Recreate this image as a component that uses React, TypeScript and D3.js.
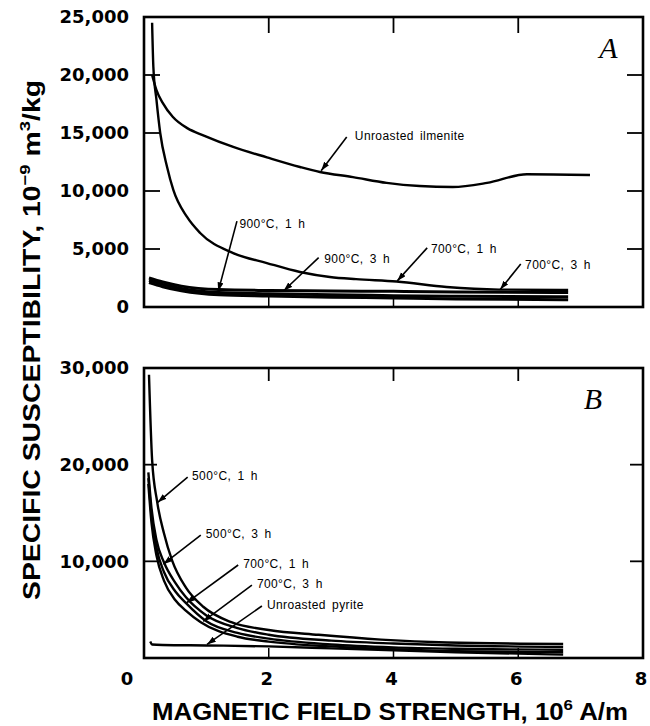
import { useEffect, useRef } from 'react';
import * as d3 from 'd3';

type Pt = [number, number];

const xTicks = [0, 2, 4, 6, 8];
const yTicksA = [0, 5000, 10000, 15000, 20000, 25000];
const yTicksB = [10000, 20000, 30000];

// panel A
const ilmenite: Pt[] = [
  [0.13, 20000], [0.2, 18700], [0.3, 17600], [0.46, 16400], [0.7, 15400], [0.95, 14800],
  [1.43, 13800], [1.97, 12900], [2.5, 12070], [2.82, 11640], [3.35, 11200], [3.89, 10700],
  [4.42, 10430], [4.95, 10350], [5.5, 10700], [6.14, 11450], [7.15, 11380],
];
const a700c1h: Pt[] = [
  [0.13, 24500], [0.15, 20700], [0.2, 17850], [0.26, 15000], [0.37, 12070], [0.47, 10090],
  [0.69, 7760], [0.9, 6380], [1.43, 4650], [1.97, 3790], [2.5, 3020], [2.98, 2590],
  [3.4, 2400], [4.05, 2200], [4.85, 1720], [5.7, 1500], [6.8, 1470],
];
const a700c3h: Pt[] = [
  [0.08, 2500], [0.3, 2150], [0.6, 1800], [1.2, 1500], [2, 1420], [3, 1380], [4, 1350], [5, 1300], [6.8, 1250],
];
const a900c1h: Pt[] = [
  [0.08, 2300], [0.3, 1950], [0.6, 1600], [1.2, 1250], [2, 1150], [3, 1050], [4, 980], [5, 920], [6.8, 880],
];
const a900c3h: Pt[] = [
  [0.08, 2100], [0.3, 1750], [0.6, 1400], [1.2, 1050], [2, 950], [3, 850], [4, 780], [5, 700], [6.8, 620],
];

// panel B
const b500c1h: Pt[] = [
  [0.08, 29300], [0.13, 20500], [0.21, 16200], [0.32, 12900], [0.45, 10100], [0.67, 7300],
  [0.95, 5300], [1.4, 3700], [2, 2900], [2.8, 2400], [3.8, 1900], [4.86, 1600], [6.72, 1450],
];
const b500c3h: Pt[] = [
  [0.07, 19200], [0.12, 15500], [0.2, 12200], [0.32, 9900], [0.5, 7800], [0.67, 6300], [1, 4400],
  [1.5, 3100], [2, 2400], [3, 1800], [4, 1500], [5, 1300], [6.72, 1150],
];
const b700c1h: Pt[] = [
  [0.07, 18600], [0.12, 14800], [0.2, 11400], [0.32, 8900], [0.5, 6900], [0.67, 5700], [1, 3800],
  [1.5, 2600], [2, 2000], [3, 1400], [4, 1100], [5, 950], [6.72, 850],
];
const b700c3h: Pt[] = [
  [0.07, 18000], [0.12, 14000], [0.2, 10600], [0.32, 8000], [0.5, 6000], [0.67, 4900], [0.91, 3700],
  [1.5, 2200], [2, 1700], [3, 1200], [4, 900], [5, 700], [6.72, 600],
];
const pyrite: Pt[] = [
  [0.1, 1700], [0.13, 1400], [0.3, 1350], [1, 1300], [2, 1200], [3, 1000], [4, 800], [5, 600], [6.72, 350],
];

// annotations: text anchor, arrow start, arrow tip (data units)
const notesA = [
  { text: 'Unroasted ilmenite', at: [3.38, 14400], from: [3.25, 14650], to: [2.84, 11750] },
  { text: '900°C, 1 h', at: [1.53, 6800], from: [1.49, 7400], to: [1.19, 1350] },
  { text: '900°C, 3 h', at: [2.89, 3800], from: [2.8, 4250], to: [2.24, 1400] },
  { text: '700°C, 1 h', at: [4.6, 4650], from: [4.54, 5100], to: [4.06, 2250] },
  { text: '700°C, 3 h', at: [6.11, 3280], from: [6.04, 3700], to: [5.71, 1500] },
];
const notesB = [
  { text: '500°C, 1 h', at: [0.77, 18400], from: [0.7, 18720], to: [0.22, 16100] },
  { text: '500°C, 3 h', at: [0.99, 12400], from: [0.91, 12720], to: [0.31, 9700] },
  { text: '700°C, 1 h', at: [1.59, 9300], from: [1.51, 9620], to: [0.68, 5700] },
  { text: '700°C, 3 h', at: [1.81, 7240], from: [1.73, 7550], to: [0.95, 3800] },
  { text: 'Unroasted pyrite', at: [1.97, 5070], from: [1.89, 5380], to: [1.01, 1400] },
];

const App = () => {
  const svgRef = useRef<SVGSVGElement>(null!);
  const width = 650;
  const height = 726;

  useEffect(() => {
    const svg = d3.select(svgRef.current);
    svg.selectAll('*').remove();

    const x = d3.scaleLinear().domain([0, 8]).range([144, 643]);
    const yA = d3.scaleLinear().domain([0, 25000]).range([307, 17]);
    const yB = d3.scaleLinear().domain([0, 30000]).range([658, 368]);

    svg
      .append('defs')
      .append('marker')
      .attr('id', 'head')
      .attr('markerUnits', 'userSpaceOnUse')
      .attr('markerWidth', 10)
      .attr('markerHeight', 8)
      .attr('refX', 9)
      .attr('refY', 3)
      .attr('orient', 'auto')
      .append('path')
      .attr('d', 'M0,0 L9,3 L0,6 Z')
      .attr('fill', '#000');

    const fmt = d3.format(',');

    const panel = (y: d3.ScaleLinear<number, number>, yTicks: number[], tickLen: number, botLen: number) => {
      const g = svg.append('g');
      const [y0, y1] = y.domain();
      g.append('rect')
        .attr('x', x(0))
        .attr('y', y(y1))
        .attr('width', x(8) - x(0))
        .attr('height', y(y0) - y(y1))
        .attr('fill', 'none')
        .attr('stroke', '#000')
        .attr('stroke-width', 2.6);

      const inner = yTicks.filter(t => t > y0 && t < y1);
      g.selectAll('line.tl')
        .data(inner)
        .enter()
        .append('line')
        .attr('x1', x(0))
        .attr('x2', x(0) + tickLen)
        .attr('y1', d => y(d))
        .attr('y2', d => y(d))
        .attr('stroke', '#000')
        .attr('stroke-width', 1.8);
      g.selectAll('line.tr')
        .data(inner)
        .enter()
        .append('line')
        .attr('x1', x(8))
        .attr('x2', x(8) - tickLen)
        .attr('y1', d => y(d))
        .attr('y2', d => y(d))
        .attr('stroke', '#000')
        .attr('stroke-width', 1.8);
      const innerX = xTicks.filter(t => t > 0 && t < 8);
      g.selectAll('line.tt')
        .data(innerX)
        .enter()
        .append('line')
        .attr('x1', d => x(d))
        .attr('x2', d => x(d))
        .attr('y1', y(y1))
        .attr('y2', y(y1) + tickLen)
        .attr('stroke', '#000')
        .attr('stroke-width', 1.8);
      g.selectAll('line.tb')
        .data(innerX)
        .enter()
        .append('line')
        .attr('x1', d => x(d))
        .attr('x2', d => x(d))
        .attr('y1', y(y0))
        .attr('y2', y(y0) - botLen)
        .attr('stroke', '#000')
        .attr('stroke-width', 1.5);

      g.selectAll('text.yl')
        .data(yTicks)
        .enter()
        .append('text')
        .attr('x', x(0) - 15)
        .attr('y', d => y(d))
        .attr('dy', '0.36em')
        .attr('text-anchor', 'end')
        .attr('font-family', 'DejaVu Sans')
        .attr('font-weight', 'bold')
        .attr('font-size', 18)
        .text(d => fmt(d));
      return g;
    };

    const line = (y: d3.ScaleLinear<number, number>) =>
      d3
        .line<Pt>()
        .x(d => x(d[0]))
        .y(d => y(d[1]))
        .curve(d3.curveMonotoneX);

    const drawSeries = (y: d3.ScaleLinear<number, number>, series: Pt[][], sw: number) => {
      svg
        .append('g')
        .selectAll('path')
        .data(series)
        .enter()
        .append('path')
        .attr('d', d => line(y)(d))
        .attr('fill', 'none')
        .attr('stroke', '#000')
        .attr('stroke-width', sw);
    };

    const drawNotes = (y: d3.ScaleLinear<number, number>, notes: typeof notesA) => {
      const g = svg.append('g');
      g.selectAll('line')
        .data(notes)
        .enter()
        .append('line')
        .attr('x1', d => x(d.from[0]))
        .attr('y1', d => y(d.from[1]))
        .attr('x2', d => x(d.to[0]))
        .attr('y2', d => y(d.to[1]))
        .attr('stroke', '#000')
        .attr('stroke-width', 1.6)
        .attr('marker-end', 'url(#head)');
      g.selectAll('text')
        .data(notes)
        .enter()
        .append('text')
        .attr('x', d => x(d.at[0]))
        .attr('y', d => y(d.at[1]))
        .attr('font-family', 'Liberation Sans')
        .attr('font-size', 12)
        .attr('letter-spacing', 0.4)
        .attr('word-spacing', 2.5)
        .text(d => d.text);
    };

    // panel A
    panel(yA, yTicksA, 16, 10);
    drawSeries(yA, [ilmenite, a700c1h], 2.4);
    drawSeries(yA, [a700c3h, a900c1h, a900c3h], 3);
    drawNotes(yA, notesA);

    // panel B
    panel(yB, yTicksB, 13, 10);
    drawSeries(yB, [b500c1h, b500c3h, b700c1h, b700c3h, pyrite], 2.4);
    drawNotes(yB, notesB);

    // x tick labels
    svg
      .append('g')
      .selectAll('text')
      .data(xTicks)
      .enter()
      .append('text')
      .attr('x', d => x(d) - (d === 0 ? 17 : 2))
      .attr('y', 685)
      .attr('text-anchor', 'middle')
      .attr('font-family', 'DejaVu Sans')
      .attr('font-weight', 'bold')
      .attr('font-size', 18)
      .text(d => d);

    // panel letters
    svg
      .append('text')
      .attr('x', x(7.3))
      .attr('y', yA(21500))
      .attr('font-family', 'Liberation Serif')
      .attr('font-style', 'italic')
      .attr('font-size', 30)
      .text('A');
    svg
      .append('text')
      .attr('x', x(7.05))
      .attr('y', yB(25800))
      .attr('font-family', 'Liberation Serif')
      .attr('font-style', 'italic')
      .attr('font-size', 30)
      .text('B');

    // x title
    const xt = svg
      .append('text')
      .attr('x', 390)
      .attr('y', 720)
      .attr('text-anchor', 'middle')
      .attr('font-family', 'Liberation Sans')
      .attr('font-weight', 'bold')
      .attr('font-size', 23)
      .attr('textLength', 476)
      .attr('lengthAdjust', 'spacingAndGlyphs');
    xt.append('tspan').text('MAGNETIC FIELD STRENGTH, 10');
    xt.append('tspan').attr('dy', -10).attr('font-size', 15).text('6');
    xt.append('tspan').attr('dy', 10).text(' A/m');

    // y title
    const yt = svg
      .append('text')
      .attr('transform', 'translate(40,340) rotate(-90)')
      .attr('text-anchor', 'middle')
      .attr('font-family', 'Liberation Sans')
      .attr('font-weight', 'bold')
      .attr('font-size', 23)
      .attr('textLength', 520)
      .attr('lengthAdjust', 'spacingAndGlyphs');
    yt.append('tspan').text('SPECIFIC SUSCEPTIBILITY, 10');
    yt.append('tspan').attr('dy', -10).attr('font-size', 15).text('−9');
    yt.append('tspan').attr('dy', 10).text(' m');
    yt.append('tspan').attr('dy', -10).attr('font-size', 15).text('3');
    yt.append('tspan').attr('dy', 10).text('/kg');
  }, []);

  return (
    <svg
      ref={svgRef}
      width={width}
      height={height}
      style={{ position: 'absolute', left: 0, top: 0, background: '#fff' }}
    ></svg>
  );
};

export default App;
